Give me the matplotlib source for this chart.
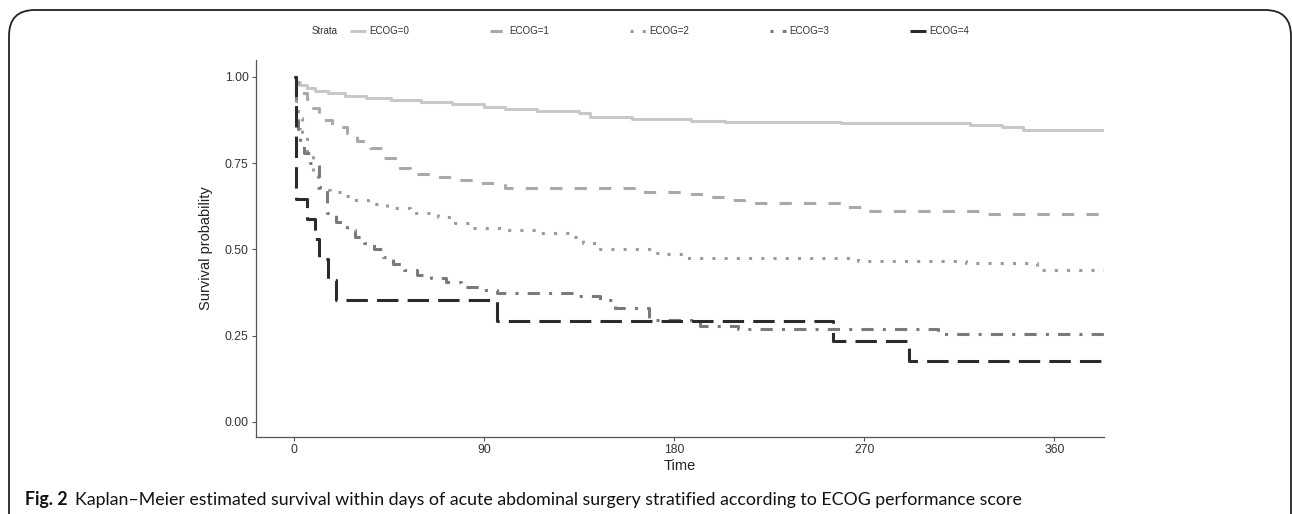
import matplotlib
matplotlib.use("Agg")
import matplotlib.pyplot as plt
from matplotlib.patches import FancyBboxPatch

# Kaplan-Meier step data (days, survival probability)
t_end = 400          # follow-up runs past the plotted window and is clipped
x_max = 365          # plotted window (0..365 days, with 5% padding like ggplot)
t0 = [0, 1, 3, 6, 10, 16, 24, 34, 46, 60, 75, 90, 100, 115, 135, 140, 160, 188, 204, 259, 320, 335, 345]
s0 = [1.0, 0.985, 0.977, 0.968, 0.96, 0.953, 0.946, 0.94, 0.934, 0.928, 0.921, 0.913, 0.907, 0.901,
      0.895, 0.884, 0.878, 0.872, 0.869, 0.866, 0.862, 0.855, 0.846]
t1 = [0, 1, 2, 4, 6, 9, 12, 14, 18, 25, 30, 36, 42, 49, 55, 65, 75, 88, 100, 161, 185, 194, 204, 213,
      259, 269, 326]
s1 = [1.0, 0.985, 0.97, 0.953, 0.935, 0.91, 0.89, 0.875, 0.855, 0.838, 0.815, 0.794, 0.765, 0.736,
      0.72, 0.71, 0.70, 0.693, 0.678, 0.667, 0.661, 0.652, 0.643, 0.635, 0.623, 0.612, 0.603]
t2 = [0, 1, 2, 4, 6, 9, 11.5, 14, 17, 22, 27, 35, 44, 55, 68, 76, 84, 99, 115, 130, 137, 145, 169,
      174, 185, 267, 318, 352]
s2 = [1.0, 0.93, 0.88, 0.826, 0.78, 0.72, 0.678, 0.672, 0.667, 0.655, 0.643, 0.632, 0.62, 0.607,
      0.594, 0.578, 0.562, 0.556, 0.548, 0.536, 0.519, 0.50, 0.49, 0.487, 0.475, 0.467, 0.461, 0.44]
t3 = [0, 1, 2, 3, 4.5, 7.6, 11.6, 15.6, 20, 25, 29, 33, 38, 42, 47, 52, 58, 65, 72, 79, 88, 96, 133,
      145, 152, 168, 192, 210, 305]
s3 = [1.0, 0.90, 0.85, 0.81, 0.78, 0.75, 0.68, 0.605, 0.58, 0.556, 0.535, 0.519, 0.50, 0.478, 0.457,
      0.44, 0.425, 0.417, 0.405, 0.391, 0.383, 0.375, 0.365, 0.354, 0.33, 0.296, 0.278, 0.27, 0.255]
t4 = [0, 1, 6, 10, 12, 16, 20, 96, 255, 291]
s4 = [1.0, 0.647, 0.588, 0.529, 0.471, 0.412, 0.353, 0.294, 0.235, 0.176]

labels = ["ECOG=0", "ECOG=1", "ECOG=2", "ECOG=3", "ECOG=4"]
colors = ["#c8c8c8", "#a9a9a9", "#9a9a9a", "#7a7a7a", "#2b2b2b"]
# ggplot linetypes: solid, dashed "44", dotted "13", dotdash "1343", longdash "73"
dashes = [None, (4, 4), (1, 3), (1, 3, 4, 3), (7, 3)]
x_ticks = [0, 90, 180, 270, 360]
y_ticks = [0.00, 0.25, 0.50, 0.75, 1.00]

W, H = 1292, 514
fig = plt.figure(figsize=(W / 100, H / 100), dpi=100)
plt.rcParams["font.family"] = ["Liberation Sans", "DejaVu Sans"]

# rounded frame around the figure panel (bottom edge runs off the image)
frame = FancyBboxPatch((9 / W, -0.2), (1300 - 18) / W, 1.2 - 10 / H,
                       boxstyle="round,pad=0,rounding_size=0.02", transform=fig.transFigure,
                       fill=False, edgecolor="#222222", linewidth=1.3, mutation_aspect=W / H)
fig.patches.append(frame)

ax = fig.add_axes([255.5 / W, (H - 437) / H, 848 / W, (437 - 60) / H])

series = [(t0, s0), (t1, s1), (t2, s2), (t3, s3), (t4, s4)]
handles = []
for (t, s), lab, col, d in zip(series, labels, colors, dashes):
    tt = list(t) + [t_end]
    ss = list(s) + [s[-1]]
    line, = ax.step(tt, ss, where="post", color=col, linewidth=2.2, label=lab,
                    solid_capstyle="butt", dash_capstyle="butt")
    if d is not None:
        line.set_dashes(d)
    handles.append(line)

ax.set_xlim(-0.05 * x_max, 1.05 * x_max)
ax.set_ylim(-0.0435, 1.049)
ax.set_xticks(x_ticks)
ax.set_yticks(y_ticks)
ax.set_yticklabels([f"{v:.2f}" for v in y_ticks])
for side in ["top", "right"]:
    ax.spines[side].set_visible(False)
for side in ["left", "bottom"]:
    ax.spines[side].set_color("#555555")
    ax.spines[side].set_linewidth(0.9)
ax.tick_params(axis="both", colors="#555555", length=3, width=0.8, labelsize=8.8,
               labelcolor="#333333", pad=2)
ax.set_xlabel("Time", fontsize=10.5, color="#222222", labelpad=2)
ax.set_ylabel("Survival probability", fontsize=10.5, color="#222222", labelpad=8)

# legend across the top
fig.text(312 / W, 1 - 31 / H, "Strata", fontsize=7, color="#333333", va="center", ha="left")
leg = fig.legend(handles=handles, labels=labels, loc="center left",
                 bbox_to_anchor=(350 / W, 1 - 31 / H), ncol=5, frameon=False, fontsize=7,
                 handlelength=1.6, handletextpad=0.4, columnspacing=8.3, borderpad=0,
                 borderaxespad=0, labelcolor="#333333")

fig.text(25 / W, 1 - 500 / H, "Fig. 2", fontsize=12.8, fontweight="bold", color="#111111",
         va="center", ha="left", family="Lato")
fig.text(75 / W, 1 - 500 / H,
         "Kaplan–Meier estimated survival within days of acute abdominal surgery stratified "
         "according to ECOG performance score",
         fontsize=12.8, color="#111111", va="center", ha="left", family="Lato")

fig.savefig("out.png", dpi=100)
